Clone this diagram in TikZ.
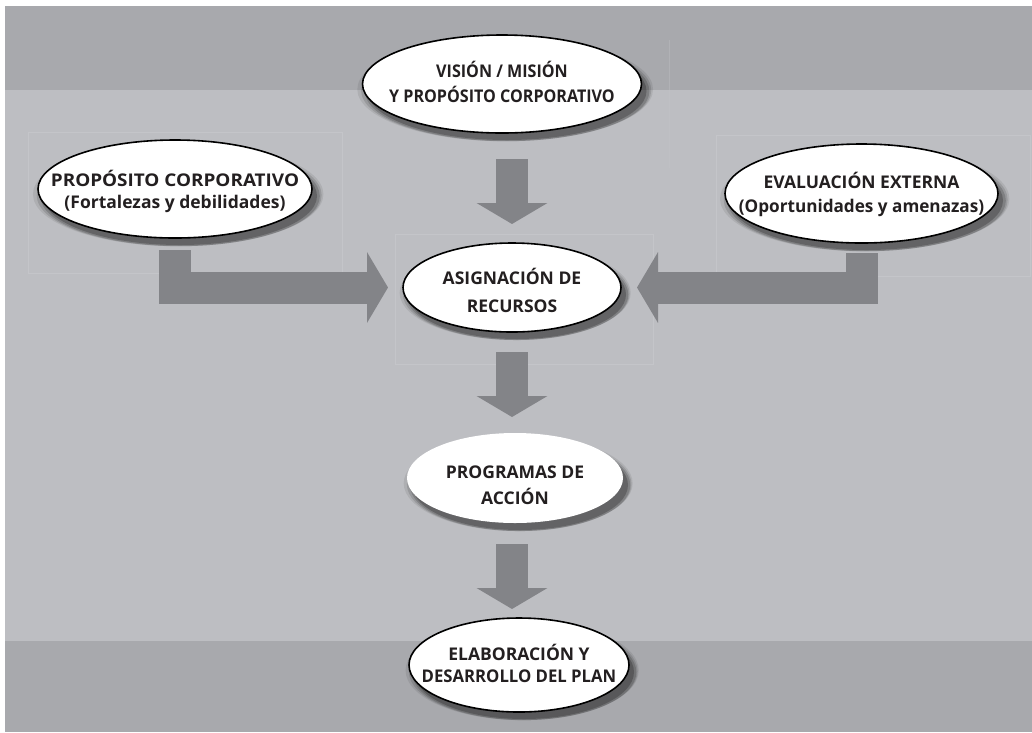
\documentclass[tikz,border=0pt]{standalone}
\usepackage{fontspec}
\setmainfont{Open Sans}
\newfontfamily\condfont{Open Sans}[FakeStretch=0.92]
\newfontfamily\widefont{Open Sans}[FakeStretch=1.08]
\newfontfamily\narrowfont{Open Sans}[FakeStretch=0.98]
\newfontfamily\slimfont{Open Sans}[FakeStretch=0.955]
\usetikzlibrary{shapes.geometric,arrows.meta,shadows}

\definecolor{bandgray}{HTML}{A8A9AD}
\definecolor{fieldgray}{HTML}{BDBEC2}
\definecolor{arrowgray}{HTML}{838488}
\definecolor{framegray}{HTML}{C4C5C9}
\definecolor{inkgray}{HTML}{231F20}

% two centred lines; #1 lifts the first baseline above the node centre
\newcommand{\twolines}[3]{\makebox[0pt]{\raisebox{#1}[0pt][0pt]{%
  \begin{tabular}[t]{@{}c@{}}#2\\#3\end{tabular}}}}

\tikzset{
  softshadow/.style={
    general shadow={fill=black, fill opacity=0.08, shadow xshift=3pt, shadow yshift=-5pt, shadow scale=1.06},
    general shadow={fill=black, fill opacity=0.12, shadow xshift=4pt, shadow yshift=-6pt, shadow scale=1.04},
    general shadow={fill=black, fill opacity=0.16, shadow xshift=5pt, shadow yshift=-7pt, shadow scale=1.02},
    general shadow={fill=black, fill opacity=0.22, shadow xshift=5pt, shadow yshift=-7pt, shadow scale=1.0}},
  bubble/.style={ellipse, fill=white, inner sep=0pt, outer sep=0pt, softshadow,
    text=inkgray, font=\bfseries},
  outlined/.style={bubble, draw=black, line width=1.6pt},
  bigarrow/.style={draw=arrowgray, line width=32pt, line join=miter,
    -{Triangle[length=21pt,width=70pt]}},
  faint/.style={draw=framegray, line width=0.8pt}
}

\begin{document}
\begin{tikzpicture}[x=1pt,y=-1pt]
\useasboundingbox (0,0) rectangle (1032,732);

% backdrop: white margin, dark upper and lower bands, light field
\fill[white] (0,0) rectangle (1032,732);
\fill[fieldgray] (5,6) rectangle (1032,732);
\fill[bandgray] (5,6) rectangle (1032,90);
\fill[bandgray] (5,641) rectangle (1032,732);

% thin panel outlines behind the bubbles
\draw[faint] (28,132) rectangle (342,273);
\draw[faint] (716,135) rectangle (1030,276);
\draw[faint] (395,234) rectangle (653,364);
\draw[faint, draw opacity=0.35] (669,40) -- (669,168);

% bubbles
\node[outlined, minimum width=279pt, minimum height=98pt,
      font=\condfont\bfseries\fontsize{17.5}{25}\selectfont] (vision) at (502,84)
  {\twolines{7pt}{VISIÓN / MISIÓN}{Y PROPÓSITO CORPORATIVO}};
\node[outlined, minimum width=274pt, minimum height=98pt,
      font=\bfseries\fontsize{17.5}{22}\selectfont] (interna) at (175,189)
  {\twolines{3pt}{\widefont\bfseries PROPÓSITO CORPORATIVO}{(Fortalezas y debilidades)}};
\node[outlined, minimum width=273pt, minimum height=99pt,
      font=\bfseries\fontsize{17.5}{24}\selectfont] (externa) at (861.5,193.5)
  {\twolines{5.5pt}{EVALUACIÓN EXTERNA}{\narrowfont\bfseries(Oportunidades y amenazas)}};
\node[outlined, minimum width=218pt, minimum height=89pt,
      font=\bfseries\fontsize{17.5}{28}\selectfont] (recursos) at (512,287.5)
  {\twolines{3.5pt}{ASIGNACIÓN DE}{RECURSOS}};
\node[bubble, minimum width=216pt, minimum height=90pt,
      font=\bfseries\fontsize{17.5}{26}\selectfont] (programas) at (515,478)
  {\twolines{0pt}{PROGRAMAS DE}{ACCIÓN}};
\node[outlined, minimum width=220pt, minimum height=94pt,
      font=\bfseries\fontsize{17.5}{22}\selectfont] (plan) at (519,665)
  {\twolines{5pt}{ELABORACIÓN Y}{\slimfont\bfseries DESARROLLO DEL PLAN}};

% block arrows
\draw[bigarrow, shorten <=26pt, shorten >=19pt]
  (recursos.north |- vision.south) -- (recursos.north);
\draw[bigarrow, shorten <=12pt, shorten >=15pt]
  (interna.south) |- (recursos.west);
\draw[bigarrow, shorten <=10pt, shorten >=16pt]
  (externa.south) |- (recursos.east);
\draw[bigarrow, shorten <=20pt, shorten >=16pt]
  (recursos.south) -- (recursos.south |- programas.north);
\draw[bigarrow, shorten <=21pt, shorten >=9pt]
  (recursos.south |- programas.south) -- (recursos.south |- plan.north);
\end{tikzpicture}
\end{document}
